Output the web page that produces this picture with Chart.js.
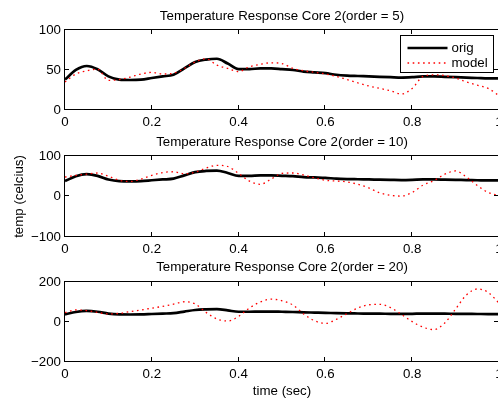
<!DOCTYPE html>
<html><head><meta charset="utf-8">
<script src="https://cdn.jsdelivr.net/npm/chart.js@4.4.0/dist/chart.umd.min.js"></script>
<style>
html,body{margin:0;padding:0;background:#fff;width:498px;height:401px;overflow:hidden;position:relative;}
.box{position:absolute;left:0;}
canvas{display:block;}
</style></head><body>
<div class="box" style="top:0px"><canvas id="c1" width="530" height="130"></canvas></div>
<div class="box" style="top:130px"><canvas id="c2" width="530" height="127"></canvas></div>
<div class="box" style="top:257px"><canvas id="c3" width="530" height="144"></canvas></div>
<script>
// ---- data ----
const timeSec = [0,0.025,0.05,0.075,0.1,0.125,0.15,0.175,0.2,0.225,0.25,0.275,0.3,0.325,0.35,0.375,0.4,0.425,0.45,0.475,0.5,0.525,0.55,0.575,0.6,0.625,0.65,0.675,0.7,0.725,0.75,0.775,0.8,0.825,0.85,0.875,0.9,0.925,0.95,0.975,1.0];
const orig = [38,50,55,51,42,38,37.5,38,40,42,44,52,60,63,64,58,51,51,52,52,51,50,48,47,46,44,43,42.5,42,41.5,41,40.5,41,42,42,41.5,41,40.5,40,39.5,39.5];
const model5 = [35,45,49,51,37,38,41,45,47,45,46,52,60,64,56,52,48,54,57,59,58,52,49,47,45,42,38,34,30,27,24,20,27,42,44,43,40,35,31,27,18];
const model10 = [48,52,55,58,50,40,37,43,52,59,61,56,60,70,77,74,57,38,30,43,57,58,53,46,40,38,36,30,21,9,3,1,10,28,39,55,63,48,27,10,2];
const model20 = [47,60,57,48,40,43,52,60,69,78,89,101,90,48,15,5,28,70,100,114,106,85,40,6,-7,13,42,70,86,88,72,38,2,-26,-38,-5,65,135,165,148,94];
const xTicks = [0,0.2,0.4,0.6,0.8,1];
const yTicks1 = [0,50,100];
const yTicks2 = [-100,0,100];
const yTicks3 = [-200,0,200];
const titles = ['Temperature Response Core 2(order = 5)','Temperature Response Core 2(order = 10)','Temperature Response Core 2(order = 20)'];
const seriesNames = ['orig','model'];
const xLabel = 'time (sec)';
const yLabel = 'temp (celcius)';

const FONT = "'Liberation Sans', Arial, Helvetica, sans-serif";
const FS = 13.3;
const TL = 4.5;

function fmt(v){ return v < 0 ? '\u2212' + Math.abs(v) : String(v); }

const framePlugin = {
  id: 'frame',
  afterLayout(chart){
    // centre the title over the plotting area, as in the original figure
    const tb = chart.titleBlock;
    if (tb) { tb.left = chart.chartArea.left; tb.right = chart.chartArea.right; }
  },
  afterDatasetsDraw(chart){
    const {ctx, chartArea:a, scales:{x, y}} = chart;
    ctx.save();
    ctx.strokeStyle = '#000';
    ctx.lineWidth = 1;
    const L = Math.round(a.left) - 0.5, R = Math.round(a.right) - 0.5, T = Math.round(a.top) - 0.5, B = Math.round(a.bottom) - 0.5;
    ctx.strokeRect(L, T, R - L, B - T);
    ctx.beginPath();
    x.ticks.forEach(t => {
      const px = Math.round(x.getPixelForValue(t.value)) - 0.5;
      ctx.moveTo(px, B); ctx.lineTo(px, B - TL);
      ctx.moveTo(px, T); ctx.lineTo(px, T + TL);
    });
    y.ticks.forEach(t => {
      const py = Math.round(y.getPixelForValue(t.value)) - 0.5;
      ctx.moveTo(L, py); ctx.lineTo(L + TL, py);
      ctx.moveTo(R, py); ctx.lineTo(R - TL, py);
    });
    ctx.stroke();
    ctx.restore();
  }
};

const boxLegendPlugin = {
  id: 'boxLegend',
  afterDraw(chart, args, opts){
    if (!opts.show) return;
    const {ctx, chartArea:a} = chart;
    const ds = chart.data.datasets;
    const w = 93, h = 37;
    const left = Math.round(a.right - 6 - w) + 0.5, top = Math.round(a.top + 6) - 0.5;
    ctx.save();
    ctx.fillStyle = '#fff';
    ctx.fillRect(left, top, w, h);
    ctx.strokeStyle = '#000'; ctx.lineWidth = 1;
    ctx.strokeRect(left, top, w, h);
    const rows = [ds.find(d => d.label === seriesNames[0]), ds.find(d => d.label === seriesNames[1])];
    rows.forEach((d, i) => {
      const yy = top + 12.5 + i * 15;
      ctx.beginPath();
      ctx.strokeStyle = d.borderColor;
      ctx.lineWidth = d.borderWidth;
      ctx.setLineDash(d.borderDash || []);
      ctx.moveTo(left + 7, yy); ctx.lineTo(left + 47, yy);
      ctx.stroke();
      ctx.setLineDash([]);
      ctx.fillStyle = '#000';
      ctx.font = FS + 'px ' + FONT;
      ctx.textBaseline = 'middle';
      ctx.textAlign = 'left';
      ctx.fillText(d.label, left + 51, yy + 0.5);
    });
    ctx.restore();
  }
};

function makeChart(id, title, model, yMin, yMax, yTicks, o){
  const tickFont = {family: FONT, size: FS};
  return new Chart(document.getElementById(id), {
    type: 'line',
    data: {
      datasets: [
        {label: seriesNames[1], data: timeSec.map((t,i)=>({x:t, y:model[i]})), borderColor: '#ff0000', borderWidth: 1.3, borderDash: [1.6, 3.6], pointRadius: 0, cubicInterpolationMode: 'monotone', fill: false},
        {label: seriesNames[0], data: timeSec.map((t,i)=>({x:t, y:orig[i]})), borderColor: '#000000', borderWidth: 2.7, pointRadius: 0, cubicInterpolationMode: 'monotone', fill: false}
      ]
    },
    options: {
      responsive: false, animation: false, devicePixelRatio: 1,
      layout: {padding: {left: 0, right: 31, top: 0, bottom: 0}},
      plugins: {
        legend: {display: false},
        tooltip: {enabled: false},
        title: {display: true, text: title, color: '#000', font: {family: FONT, size: FS, weight: 'normal'}, padding: o.titlePad},
        boxLegend: {show: !!o.legend}
      },
      scales: {
        x: {
          type: 'linear', min: 0, max: 1,
          afterBuildTicks: s => { s.ticks = xTicks.map(v => ({value: v})); },
          afterFit: s => { s.height = o.xH; },
          grid: {display: false, drawTicks: false},
          border: {display: false},
          ticks: {color: '#000', font: tickFont, padding: 4, maxRotation: 0, autoSkip: false, callback: v => fmt(v)},
          title: {display: !!o.xTitle, text: xLabel, color: '#000', font: {family: FONT, size: FS}, padding: {top: 0, bottom: 2}}
        },
        y: {
          type: 'linear', min: yMin, max: yMax,
          afterBuildTicks: s => { s.ticks = yTicks.map(v => ({value: v})); },
          afterFit: s => { s.width = 65; },
          grid: {display: false, drawTicks: false},
          border: {display: false},
          ticks: {color: '#000', font: tickFont, padding: 4, autoSkip: false, callback: v => fmt(v)},
          title: {display: !!o.yTitle, text: yLabel, color: '#000', font: {family: FONT, size: FS}, padding: {top: 11, bottom: 0}}
        }
      }
    },
    plugins: [framePlugin, boxLegendPlugin]
  });
}

makeChart('c1', titles[0], model5, 0, 100, yTicks1, {titlePad: {top: 8, bottom: 6}, xH: 20, legend: true});
makeChart('c2', titles[1], model10, -100, 100, yTicks2, {titlePad: {top: 4, bottom: 6}, xH: 20, yTitle: true});
makeChart('c3', titles[2], model20, -200, 200, yTicks3, {titlePad: {top: 2, bottom: 7}, xH: 39, xTitle: true});
</script>
</body></html>
